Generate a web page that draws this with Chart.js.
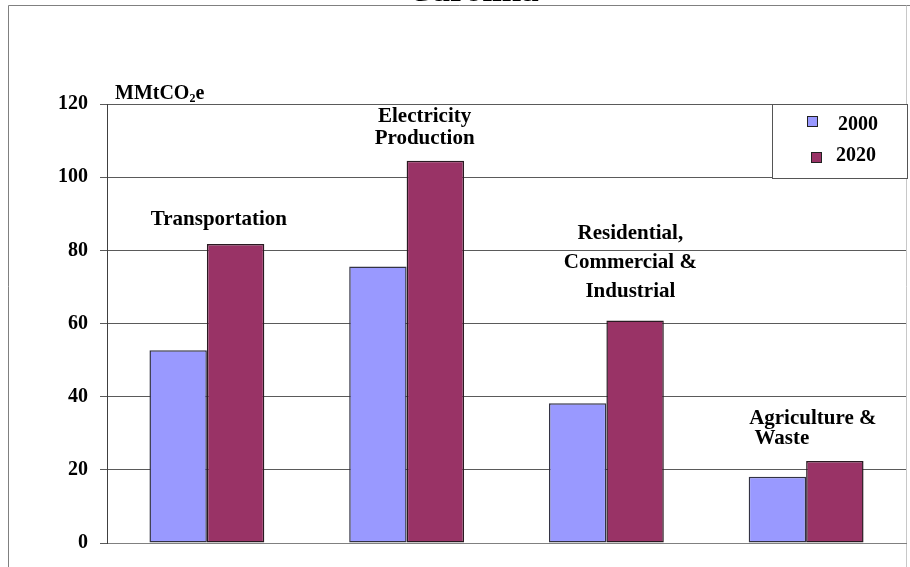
<!DOCTYPE html>
<html>
<head>
<meta charset="utf-8">
<script src="https://cdn.jsdelivr.net/npm/chart.js@4"></script>
<style>
  html, body { margin: 0; padding: 0; background: #fff; }
  #wrap { width: 910px; height: 567px; }
</style>
</head>
<body>
<div id="wrap"><canvas id="chart" width="910" height="567"></canvas></div>
<script>
// data
const categories = ['Transportation', 'Electricity Production', 'Residential, Commercial & Industrial', 'Agriculture & Waste'];
const labelLines = [['Transportation'], ['Electricity', 'Production'], ['Residential,', 'Commercial &', 'Industrial'], ['Agriculture &', ' Waste']];
const seriesNames = ['2000', '2020'];
const values2000 = [52.7, 75.6, 38.2, 18.1];
const values2020 = [81.7, 104.5, 60.8, 22.4];
const yTicks = [0, 20, 40, 60, 80, 100, 120];

const FONT = "'Liberation Serif', 'Times New Roman', serif";

// where the category captions sit relative to the taller bar (pixels)
const captionStyle = {
  dx: [12, 18, 24, -57],
  gap: [19, 17, 24, 17],
  lineHeight: [24, 22, 29, 20],
  align: ['center', 'center', 'center', 'left']
};

// frame, title, unit label, captions and legend box
const extras = {
  id: 'extras',
  beforeDraw(chart) {
    const ctx = chart.ctx;
    ctx.save();
    ctx.fillStyle = '#fff';
    ctx.fillRect(0, 0, chart.width, chart.height);
    // outer frame
    ctx.strokeStyle = '#808080';
    ctx.lineWidth = 1;
    ctx.beginPath();
    ctx.moveTo(8.5, chart.height);
    ctx.lineTo(8.5, 5.5);
    ctx.lineTo(chart.width, 5.5);
    ctx.stroke();
    ctx.strokeStyle = '#c8c8c8';
    ctx.beginPath();
    ctx.moveTo(906.5, 5.5);
    ctx.lineTo(906.5, chart.height);
    ctx.stroke();
    // title, mostly cut off at the top
    ctx.fillStyle = '#000';
    ctx.font = 'bold 35px ' + FONT;
    ctx.textAlign = 'center';
    ctx.textBaseline = 'alphabetic';
    ctx.fillText('Carolina', 473, 1);
    ctx.restore();
  },
  afterDraw(chart) {
    const ctx = chart.ctx;
    const xs = chart.scales.x, ys = chart.scales.y;
    const area = chart.chartArea;
    ctx.save();
    ctx.fillStyle = '#000';
    ctx.textBaseline = 'alphabetic';

    // unit label MMtCO2e
    ctx.font = 'bold 20px ' + FONT;
    ctx.textAlign = 'left';
    let x = area.left + 8;
    const yb = area.top - 5;
    ctx.fillText('MMtCO', x, yb);
    x += ctx.measureText('MMtCO').width;
    ctx.font = 'bold 12px ' + FONT;
    ctx.fillText('2', x, yb + 3);
    x += ctx.measureText('2').width;
    ctx.font = 'bold 20px ' + FONT;
    ctx.fillText('e', x, yb);

    // category captions above the bars
    ctx.font = 'bold 21px ' + FONT;
    categories.forEach((c, i) => {
      const lines = labelLines[i];
      const top = Math.max(values2000[i], values2020[i]);
      const cx = xs.getPixelForValue(i) + captionStyle.dx[i];
      const lastBase = ys.getPixelForValue(top) - captionStyle.gap[i];
      ctx.textAlign = captionStyle.align[i];
      lines.forEach((t, j) => {
        const y = lastBase - (lines.length - 1 - j) * captionStyle.lineHeight[i];
        ctx.fillText(t, cx, y);
      });
    });

    // legend box in the top right corner
    const bx = 772.5, by = area.top + 0.5, bw = 135, bh = 74;
    ctx.fillStyle = '#fff';
    ctx.fillRect(bx, by, bw, bh);
    ctx.strokeStyle = '#555';
    ctx.lineWidth = 1;
    ctx.strokeRect(bx, by, bw, bh);
    const marks = [[807, 116, 838, 130], [811, 152, 836, 161]];
    chart.data.datasets.forEach((ds, k) => {
      const m = marks[k];
      ctx.fillStyle = ds.backgroundColor;
      ctx.fillRect(m[0], m[1], 11, 11);
      ctx.strokeStyle = '#222';
      ctx.strokeRect(m[0] + 0.5, m[1] + 0.5, 10, 10);
      ctx.fillStyle = '#000';
      ctx.font = 'bold 20px ' + FONT;
      ctx.textAlign = 'left';
      ctx.fillText(ds.label, m[2], m[3]);
    });
    ctx.restore();
  }
};

new Chart(document.getElementById('chart'), {
  type: 'bar',
  data: {
    labels: categories,
    datasets: [
      {
        label: seriesNames[0],
        data: values2000,
        backgroundColor: '#9999ff',
        borderColor: '#333344',
        borderWidth: 1.5,
        borderSkipped: false,
        categoryPercentage: 0.575,
        barPercentage: 1
      },
      {
        label: seriesNames[1],
        data: values2020,
        backgroundColor: '#993366',
        borderColor: '#2a1a22',
        borderWidth: 1.5,
        borderSkipped: false,
        categoryPercentage: 0.575,
        barPercentage: 1
      }
    ]
  },
  options: {
    responsive: false,
    animation: false,
    layout: { padding: { left: 0, top: 104, right: 4, bottom: 21 } },
    plugins: {
      legend: { display: false },
      title: { display: false },
      tooltip: { enabled: false }
    },
    scales: {
      x: {
        grid: { display: false },
        ticks: { display: false },
        border: { display: true, color: '#808080', width: 1 },
        afterFit(axis) { axis.height = 0; }
      },
      y: {
        min: 0,
        max: 120,
        afterBuildTicks(axis) { axis.ticks = yTicks.map(v => ({ value: v })); },
        afterFit(axis) { axis.width = 107; },
        ticks: {
          color: '#000',
          padding: 12,
          font: { family: FONT, size: 20, weight: 'bold' }
        },
        grid: { color: '#5a5a5a', lineWidth: 1, tickLength: 7 },
        border: { display: true, color: '#404040', width: 1 }
      }
    }
  },
  plugins: [extras]
});
</script>
</body>
</html>
